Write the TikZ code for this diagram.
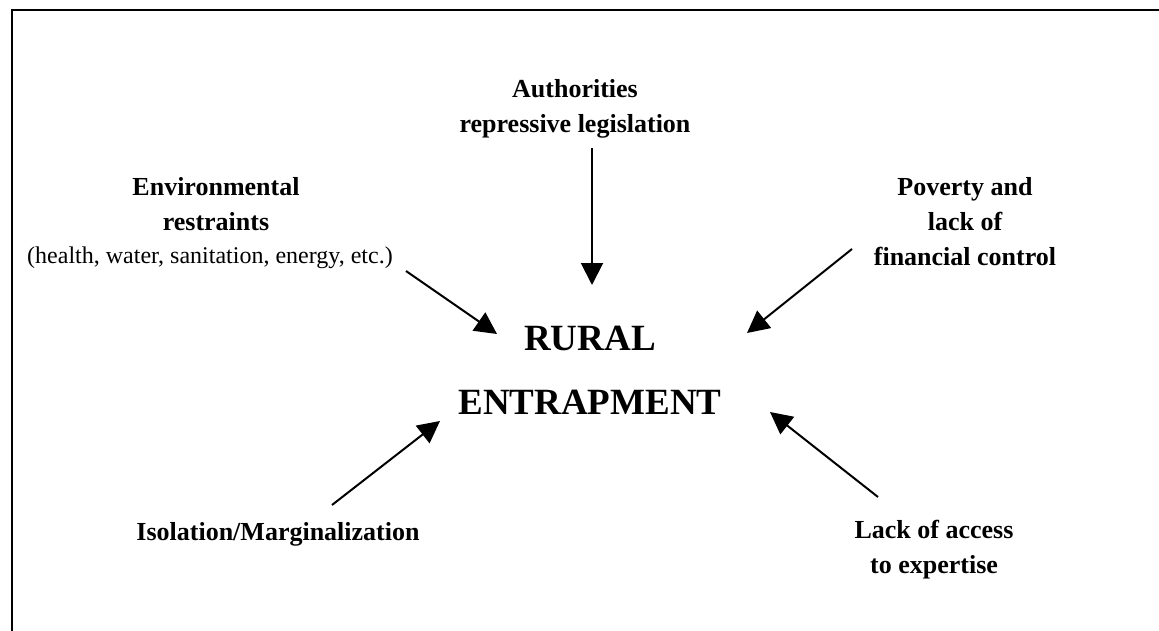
\documentclass[tikz,border=0pt]{standalone}
\usepackage{fontspec}
\setmainfont{Liberation Serif}
\usetikzlibrary{arrows.meta}

\begin{document}
\begin{tikzpicture}[x=1pt, y=-1pt, >={Triangle[length=22pt, width=22pt]},
  cause/.style={font=\fontsize{26}{35}\selectfont\bfseries, align=center, inner sep=0pt},
  note/.style={font=\fontsize{24}{28}\selectfont, inner sep=0pt},
  core/.style={font=\fontsize{37}{64}\selectfont\bfseries, align=center, inner sep=0pt},
  push/.style={->, line width=2pt}]
  \useasboundingbox (0,0) rectangle (1159,631);
  \clip (0,0) rectangle (1159,631);
  % frame (right and bottom sides fall off the page)
  \draw[line width=2pt] (1180,10) -- (12,10) -- (12,650);

  \node[core] (core) at (590,370) {RURAL\\ENTRAPMENT};
  \node[cause] (auth) at (575,109) {Authorities\\repressive legislation};
  \node[cause] (env) at (216,204) {Environmental\\restraints};
  \node[note] (envNote) at (210,258) {(health, water, sanitation, energy, etc.)};
  \node[cause] (pov) at (965,222) {Poverty and\\lack of\\financial control};
  \node[cause] (iso) at (278,534) {Isolation/Marginalization};
  \node[cause] (lack) at (934,550) {Lack of access\\to expertise};

  % arrow ends
  \coordinate (authS) at (592,148);  \coordinate (authT) at (592,285);
  \coordinate (envS) at (406,271);   \coordinate (envT) at (497,334);
  \coordinate (povS) at (852,249);   \coordinate (povT) at (747,333);
  \coordinate (isoS) at (332,505);   \coordinate (isoT) at (440,421);
  \coordinate (lackS) at (878,497);  \coordinate (lackT) at (770,412);

  \draw[push] (authS) -- (authT);
  \draw[push] (envS) -- (envT);
  \draw[push] (povS) -- (povT);
  \draw[push] (isoS) -- (isoT);
  \draw[push] (lackS) -- (lackT);
\end{tikzpicture}
\end{document}
